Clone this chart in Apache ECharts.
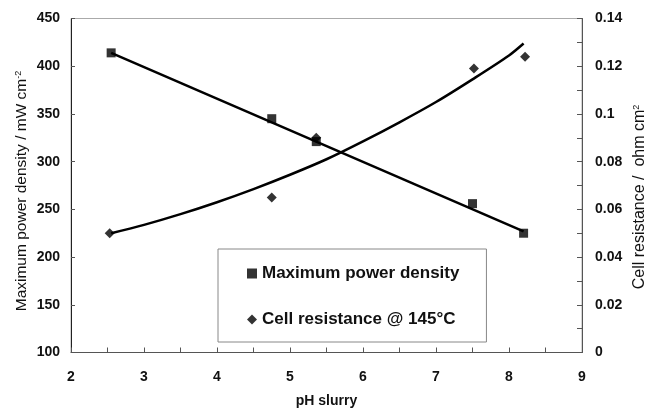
<!DOCTYPE html>
<html>
<head>
<meta charset="utf-8">
<script src="https://cdn.jsdelivr.net/npm/echarts@6/dist/echarts.min.js"></script>
<style>html,body{margin:0;padding:0;background:#fff}#c{width:646px;height:409px}</style>
</head>
<body>
<div id="c"></div>
<script>
// Data
var phPower = [2.55, 4.75, 5.36, 7.50, 8.20];
var powerDensity = [414, 345, 321, 256, 225];
var phResistance = [2.53, 4.75, 5.36, 7.52, 8.22];
var cellResistance = [0.050, 0.065, 0.090, 0.119, 0.124];
var powerFitX = [2.55, 8.20];
var powerFitY = [414, 227];
var resFitX = [2.55, 3.0, 3.5, 4.0, 4.5, 5.0, 5.5, 6.0, 6.5, 7.0, 7.5, 8.0, 8.2];
var resFitY = [0.050, 0.0535, 0.058, 0.063, 0.0685, 0.0745, 0.081, 0.0885, 0.0965, 0.105, 0.1145, 0.1245, 0.1295];
var xTicks = [2, 3, 4, 5, 6, 7, 8, 9];
var leftTicks = [100, 150, 200, 250, 300, 350, 400, 450];
var rightTicks = [0, 0.02, 0.04, 0.06, 0.08, 0.1, 0.12, 0.14];
var seriesNames = ['Maximum power density', 'Cell resistance @ 145°C'];

function zip(a, b) { return a.map(function (v, i) { return [v, b[i]]; }); }

var FONT = 'Liberation Sans, Arial, sans-serif';
var chart = echarts.init(document.getElementById('c'));
chart.setOption({
  animation: false,
  backgroundColor: '#fff',
  textStyle: { fontFamily: FONT, color: '#111' },
  grid: { left: 71, right: 64, top: 18.5, bottom: 56.5, show: true, borderColor: '#aaa', borderWidth: 1,
          containLabel: false, outerBoundsMode: 'none' },
  legend: {
    orient: 'vertical', left: 218, top: 249,
    padding: [16, 27, 14, 29], itemGap: 29, itemWidth: 10, itemHeight: 10,
    borderColor: '#888', borderWidth: 1,
    textStyle: { fontSize: 17, fontWeight: 'bold', fontFamily: FONT, color: '#111' },
    data: [{ name: seriesNames[0], icon: 'rect' }, { name: seriesNames[1], icon: 'diamond' }]
  },
  xAxis: {
    type: 'value', min: xTicks[0], max: xTicks[xTicks.length - 1], interval: 1,
    name: 'pH slurry', nameLocation: 'middle', nameGap: 42,
    nameTextStyle: { fontSize: 14, fontWeight: 'bold', fontFamily: FONT, color: '#111' },
    axisLine: { lineStyle: { color: '#555', width: 1 } },
    axisTick: { inside: true, length: 5, lineStyle: { color: '#555' } },
    minorTick: { show: true, splitNumber: 2, length: 5, lineStyle: { color: '#555' } },
    axisLabel: { margin: 18, fontSize: 14, fontWeight: 'bold', color: '#111', fontFamily: FONT },
    splitLine: { show: false }
  },
  yAxis: [{
    type: 'value', min: leftTicks[0], max: leftTicks[leftTicks.length - 1], interval: 50,
    axisLine: { show: true, lineStyle: { color: '#222', width: 1 } },
    axisTick: { show: true, inside: true, length: 4, lineStyle: { color: '#555' } },
    axisLabel: { margin: 11, fontSize: 14, fontWeight: 'bold', color: '#111', fontFamily: FONT },
    splitLine: { show: false }
  }, {
    type: 'value', position: 'right', min: rightTicks[0], max: rightTicks[rightTicks.length - 1], interval: 0.02,
    axisLine: { show: true, lineStyle: { color: '#555', width: 1 } },
    axisTick: { show: true, inside: true, length: 5, lineStyle: { color: '#555' } },
    minorTick: { show: true, splitNumber: 2, length: 5, lineStyle: { color: '#555' } },
    axisLabel: { margin: 13, fontSize: 14, fontWeight: 'bold', color: '#111', fontFamily: FONT },
    splitLine: { show: false }
  }],
  graphic: [{
    type: 'text', x: 22, y: 191, rotation: Math.PI / 2,
    style: {
      text: 'Maximum power density / mW cm{sup|-2}',
      fill: '#111', font: '15.5px ' + FONT, align: 'center', verticalAlign: 'middle',
      rich: { sup: { fontSize: 9, verticalAlign: 'top', fill: '#111', fontFamily: FONT } }
    }
  }, {
    type: 'text', x: 640, y: 197, rotation: Math.PI / 2,
    style: {
      text: 'Cell resistance /  ohm cm{sup|2}',
      fill: '#111', font: '16px ' + FONT, align: 'center', verticalAlign: 'middle',
      rich: { sup: { fontSize: 9, verticalAlign: 'top', fill: '#111', fontFamily: FONT } }
    }
  }],
  series: [{
    type: 'line', yAxisIndex: 0, data: zip(powerFitX, powerFitY), showSymbol: false,
    lineStyle: { color: '#000', width: 2.5 }, silent: true, z: 2
  }, {
    type: 'line', yAxisIndex: 1, data: zip(resFitX, resFitY), showSymbol: false, smooth: 0.3,
    lineStyle: { color: '#000', width: 2.5 }, silent: true, z: 2
  }, {
    name: seriesNames[0], type: 'scatter', yAxisIndex: 0, data: zip(phPower, powerDensity),
    symbol: 'rect', symbolSize: 9, itemStyle: { color: '#000' }, z: 3
  }, {
    name: seriesNames[1], type: 'scatter', yAxisIndex: 1, data: zip(phResistance, cellResistance),
    symbol: 'diamond', symbolSize: [10, 10], itemStyle: { color: '#000' }, z: 3
  }]
});
</script>
</body>
</html>
